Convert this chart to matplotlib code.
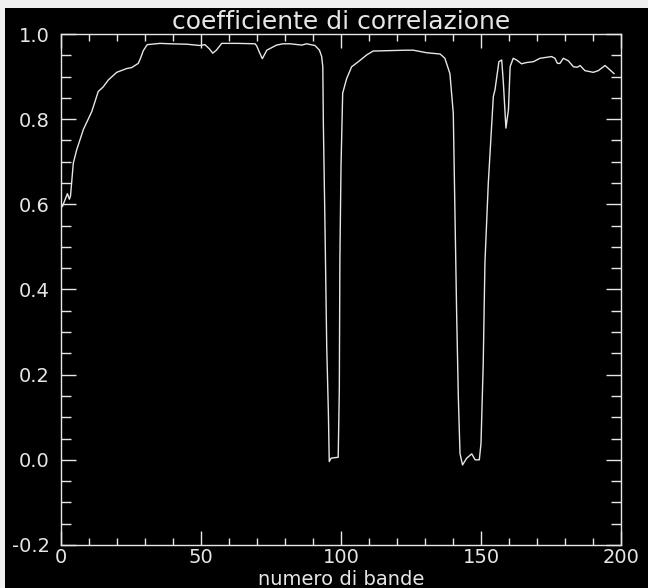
import matplotlib.pyplot as plt
from matplotlib.ticker import MultipleLocator
from matplotlib.patches import Rectangle

# band index and correlation coefficient
bande = [0.5, 1.4, 2.3, 3.0, 3.4, 4.4, 5.6, 8.0, 11.0, 13.3, 15.1, 16.9, 19.9,
         23.5, 25.2, 27.6, 28.4, 29.4, 30.8, 35.4, 39.0, 45.0, 49.6, 51.4,
         53.0, 54.2, 55.5, 57.4, 63.0, 69.3, 69.9, 71.0, 71.9, 73.5, 77.0,
         79.3, 81.8, 86.0, 87.7, 90.7, 92.3, 93.1, 93.5, 93.7, 94.3, 94.9,
         95.5, 95.8, 96.5, 99.0, 99.4, 99.6, 100.0, 100.6, 102.0, 103.8,
         106.2, 109.2, 111.5, 117.5, 123.4, 125.8, 130.6, 135.4, 137.1,
         138.9, 140.1, 140.7, 141.3, 141.9, 142.5, 143.4, 144.9, 146.7,
         147.9, 149.4, 150.0, 150.8, 151.4, 152.6, 154.4, 155.0, 155.8,
         156.4, 157.4, 158.0, 158.9, 159.8, 160.4, 161.5, 162.7, 164.5,
         166.3, 168.7, 171.1, 175.2, 176.4, 177.3, 178.2, 179.4, 181.2,
         183.0, 184.4, 185.4, 187.1, 190.1, 191.9, 194.3, 195.5, 197.5]
correlazione = [0.595, 0.61, 0.625, 0.612, 0.62, 0.697, 0.728, 0.776, 0.818,
                0.865, 0.876, 0.892, 0.910, 0.919, 0.921, 0.931, 0.943, 0.961,
                0.975, 0.978, 0.977, 0.976, 0.973, 0.975, 0.965, 0.955, 0.962,
                0.978, 0.978, 0.977, 0.972, 0.955, 0.942, 0.962, 0.974, 0.977,
                0.977, 0.974, 0.977, 0.973, 0.962, 0.947, 0.923, 0.790, 0.540,
                0.266, 0.109, -0.004, 0.004, 0.006, 0.164, 0.469, 0.688, 0.861,
                0.895, 0.923, 0.935, 0.951, 0.960, 0.961, 0.962, 0.962, 0.956,
                0.953, 0.943, 0.907, 0.814, 0.579, 0.344, 0.148, 0.015, -0.012,
                0.004, 0.014, 0.0, 0.0, 0.039, 0.227, 0.462, 0.649, 0.853,
                0.869, 0.907, 0.935, 0.939, 0.884, 0.779, 0.822, 0.923, 0.943,
                0.939, 0.930, 0.933, 0.935, 0.943, 0.947, 0.943, 0.931, 0.931,
                0.943, 0.937, 0.923, 0.922, 0.926, 0.914, 0.910, 0.914, 0.926,
                0.919, 0.907]

fg = '#e6e6e6'
plt.rcParams['font.family'] = ['DejaVu Sans']

fig = plt.figure(figsize=(6.48, 5.88), dpi=100)
fig.patch.set_facecolor('#f0f0f0')
# black drawing area inside the light frame
fig.patches.append(Rectangle((5 / 648, 0), 643 / 648, 580 / 588,
                             transform=fig.transFigure, facecolor='black',
                             edgecolor='none', zorder=-5))

ax = fig.add_axes([61 / 648, 43 / 588, 560 / 648, 511 / 588])
ax.set_zorder(2)
ax.set_facecolor('black')
ax.plot(bande, correlazione, color=fg, linewidth=1.0)

ax.set_xlim(0, 200)
ax.set_ylim(-0.2, 1.0)
ax.xaxis.set_major_locator(MultipleLocator(50))
ax.xaxis.set_minor_locator(MultipleLocator(10))
ax.yaxis.set_major_locator(MultipleLocator(0.2))
ax.yaxis.set_minor_locator(MultipleLocator(0.05))
ax.yaxis.set_major_formatter(plt.FuncFormatter(lambda v, p: f'{v:.1f}'))

for s in ax.spines.values():
    s.set_color(fg)
    s.set_linewidth(1.0)
ax.tick_params(which='both', direction='in', top=True, right=True,
               color=fg, labelcolor=fg, labelsize=14, width=1.0)
ax.tick_params(axis='x', which='major', length=10, pad=2)
ax.tick_params(axis='x', which='minor', length=5)
ax.tick_params(axis='y', which='major', length=11, pad=8)
ax.tick_params(axis='y', which='minor', length=7)

ax.set_title('coefficiente di correlazione', color=fg, fontsize=18, pad=1)
ax.set_xlabel('numero di bande', color=fg, fontsize=14)
ax.xaxis.set_label_coords(0.5, -0.048)

plt.savefig('out.png', facecolor=fig.get_facecolor())
